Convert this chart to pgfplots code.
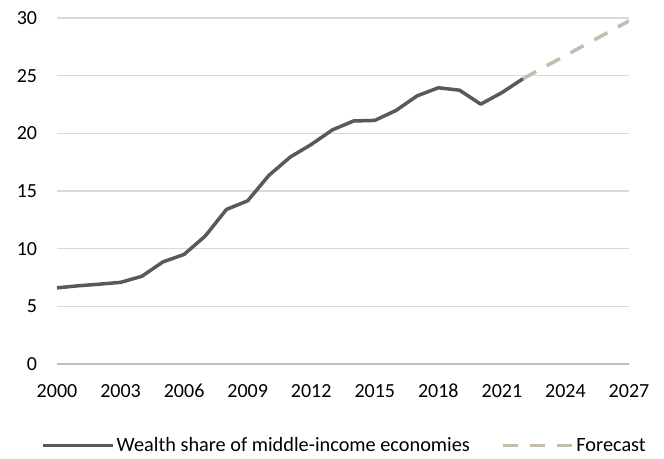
\documentclass[border=0pt]{standalone}
\usepackage{pgfplots}
\pgfplotsset{compat=1.18}
\usepackage{fontspec}
\setmainfont{Carlito}

\definecolor{wealth}{RGB}{89,89,89}
\definecolor{forecast}{RGB}{196,189,169}
\definecolor{gridc}{RGB}{217,217,217}
\definecolor{axisc}{RGB}{191,191,191}

\pgfplotstableread{
year share
2000 6.60
2001 6.78
2002 6.92
2003 7.08
2004 7.60
2005 8.85
2006 9.50
2007 11.10
2008 13.40
2009 14.15
2010 16.35
2011 17.93
2012 19.03
2013 20.30
2014 21.07
2015 21.12
2016 21.98
2017 23.25
2018 23.95
2019 23.74
2020 22.53
2021 23.53
2022 24.74
}\wealthdata

\pgfplotstableread{
year share
2022 24.74
2027 29.75
}\forecastdata

\begin{document}
\begin{tikzpicture}
\begin{axis}[
  name=ax,
  scale only axis,
  width=572pt, height=346pt,
  xmin=2000, xmax=2027,
  ymin=0, ymax=30,
  xtick={2000,2003,...,2027},
  ytick={5,10,...,30},
  extra y ticks={0},
  extra y tick style={grid style={draw=axisc, line width=1.3pt}},
  axis line style={draw=none},
  major tick length=0pt,
  ymajorgrids,
  grid style={draw=gridc, line width=1.3pt},
  /pgf/number format/1000 sep={},
  xticklabel={\pgfmathprintnumber[assume math mode=true]{\tick}},
  yticklabel={\pgfmathprintnumber[assume math mode=true]{\tick}},
  tick label style={font=\fontsize{20}{24}\selectfont, inner sep=0pt, text=black},
  yticklabel style={anchor=east, xshift=-19.7pt},
  xticklabel style={anchor=base, yshift=-34pt},
  legend columns=2,
  legend cell align=left,
  legend style={draw=none, fill=none, at={(0.5026,-0.2361)}, anchor=center,
    font=\fontsize{20.3}{24}\selectfont,
    nodes={inner xsep=2pt},
    /tikz/every even column/.append style={column sep=29pt}},
  legend image code/.code={\draw[#1] (0pt,0pt) -- (70pt,0pt);},
]
\addplot[color=wealth, line width=3.5pt, line join=round] table[x=year, y=share] {\wealthdata};
\addlegendentry{Wealth share of middle-income economies}
\addplot[color=forecast, line width=3.5pt, dash pattern=on 15pt off 12pt] table[x=year, y=share] {\forecastdata};
\addlegendentry{Forecast}
\end{axis}
\pgfresetboundingbox
\path ([shift={(-57pt,-95pt)}]ax.south west) rectangle ([shift={(35pt,18pt)}]ax.north east);
\end{tikzpicture}
\end{document}
